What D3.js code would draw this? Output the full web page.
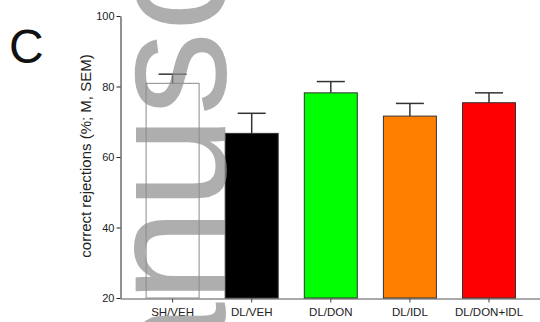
<!DOCTYPE html>
<html>
<head>
<meta charset="utf-8">
<script src="https://cdn.jsdelivr.net/npm/d3@7"></script>
<style>
  html, body { margin: 0; padding: 0; background: #fff; }
  svg { display: block; font-family: "Liberation Sans", Arial, sans-serif; }
</style>
</head>
<body>
<svg id="chart" width="540" height="322"></svg>
<script>
// Groups, means and SEM (correct rejections, %)
const groups = ["SH/VEH", "DL/VEH", "DL/DON", "DL/IDL", "DL/DON+IDL"];
const means  = [80.9, 66.7, 78.2, 71.6, 75.4];
const sems   = [2.6, 5.7, 3.2, 3.6, 2.8];
const fills  = ["#ffffff", "#000000", "#00ff00", "#ff8000", "#ff0000"];
const yTicks = [20, 40, 60, 80, 100];

const svg = d3.select("#chart");

const x = d3.scaleBand().domain(groups).range([120, 541.6]).padding(0.33);
const y = d3.scaleLinear().domain([20, 100]).range([298, 16]);

// Panel letter
svg.append("text")
  .attr("x", 9).attr("y", 63)
  .attr("font-size", 48)
  .attr("fill", "#111")
  .text("C");

// Y axis
const gy = svg.append("g")
  .attr("transform", "translate(120.5,0)")
  .call(d3.axisLeft(y).tickValues(yTicks).tickSize(4).tickSizeOuter(0).tickPadding(2));
gy.select(".domain").attr("stroke", "#222");
gy.selectAll(".tick line").attr("stroke", "#222");
gy.selectAll(".tick text").attr("font-size", 11).attr("fill", "#222")
  .attr("font-family", "Liberation Sans, Arial, sans-serif");

// X axis
const gx = svg.append("g")
  .attr("transform", "translate(0,298.5)")
  .call(d3.axisBottom(x).tickSize(4).tickSizeOuter(0).tickPadding(5));
gx.select(".domain").attr("stroke", "#555");
gx.selectAll(".tick line").attr("stroke", "#444");
gx.selectAll(".tick text").attr("font-size", 11.5).attr("fill", "#222")
  .attr("font-family", "Liberation Sans, Arial, sans-serif");

// Y axis title
svg.append("text")
  .attr("transform", "translate(91,156) rotate(-90)")
  .attr("text-anchor", "middle")
  .attr("font-size", 15)
  .attr("fill", "#222")
  .text("correct rejections (%; M, SEM)");

// Bars
const rows = groups.map((g, i) => ({ g, m: means[i], s: sems[i], c: fills[i] }));

svg.append("g").selectAll("rect")
  .data(rows)
  .join("rect")
  .attr("x", d => x(d.g))
  .attr("y", d => y(d.m))
  .attr("width", x.bandwidth())
  .attr("height", d => y(20) - y(d.m))
  .attr("fill", d => d.c)
  .attr("stroke", (d, i) => i === 0 ? "#8a8a8a" : "#333")
  .attr("stroke-width", 1);

// Upper SEM whiskers
const err = svg.append("g").attr("stroke", "#333").attr("stroke-width", 1.5);
err.selectAll("line.v")
  .data(rows)
  .join("line")
  .attr("class", "v")
  .attr("x1", d => x(d.g) + x.bandwidth() / 2)
  .attr("x2", d => x(d.g) + x.bandwidth() / 2)
  .attr("y1", d => y(d.m))
  .attr("y2", d => y(d.m + d.s));
err.selectAll("line.h")
  .data(rows)
  .join("line")
  .attr("class", "h")
  .attr("x1", d => x(d.g) + x.bandwidth() / 2 - 14)
  .attr("x2", d => x(d.g) + x.bandwidth() / 2 + 14)
  .attr("y1", d => y(d.m + d.s))
  .attr("y2", d => y(d.m + d.s));

// Watermark
svg.append("text")
  .attr("transform", "translate(225,536) rotate(-90)")
  .attr("font-size", 168)
  .attr("fill", "#8c8c8c")
  .attr("fill-opacity", 0.7)
  .text("Manuscript");
</script>
</body>
</html>
